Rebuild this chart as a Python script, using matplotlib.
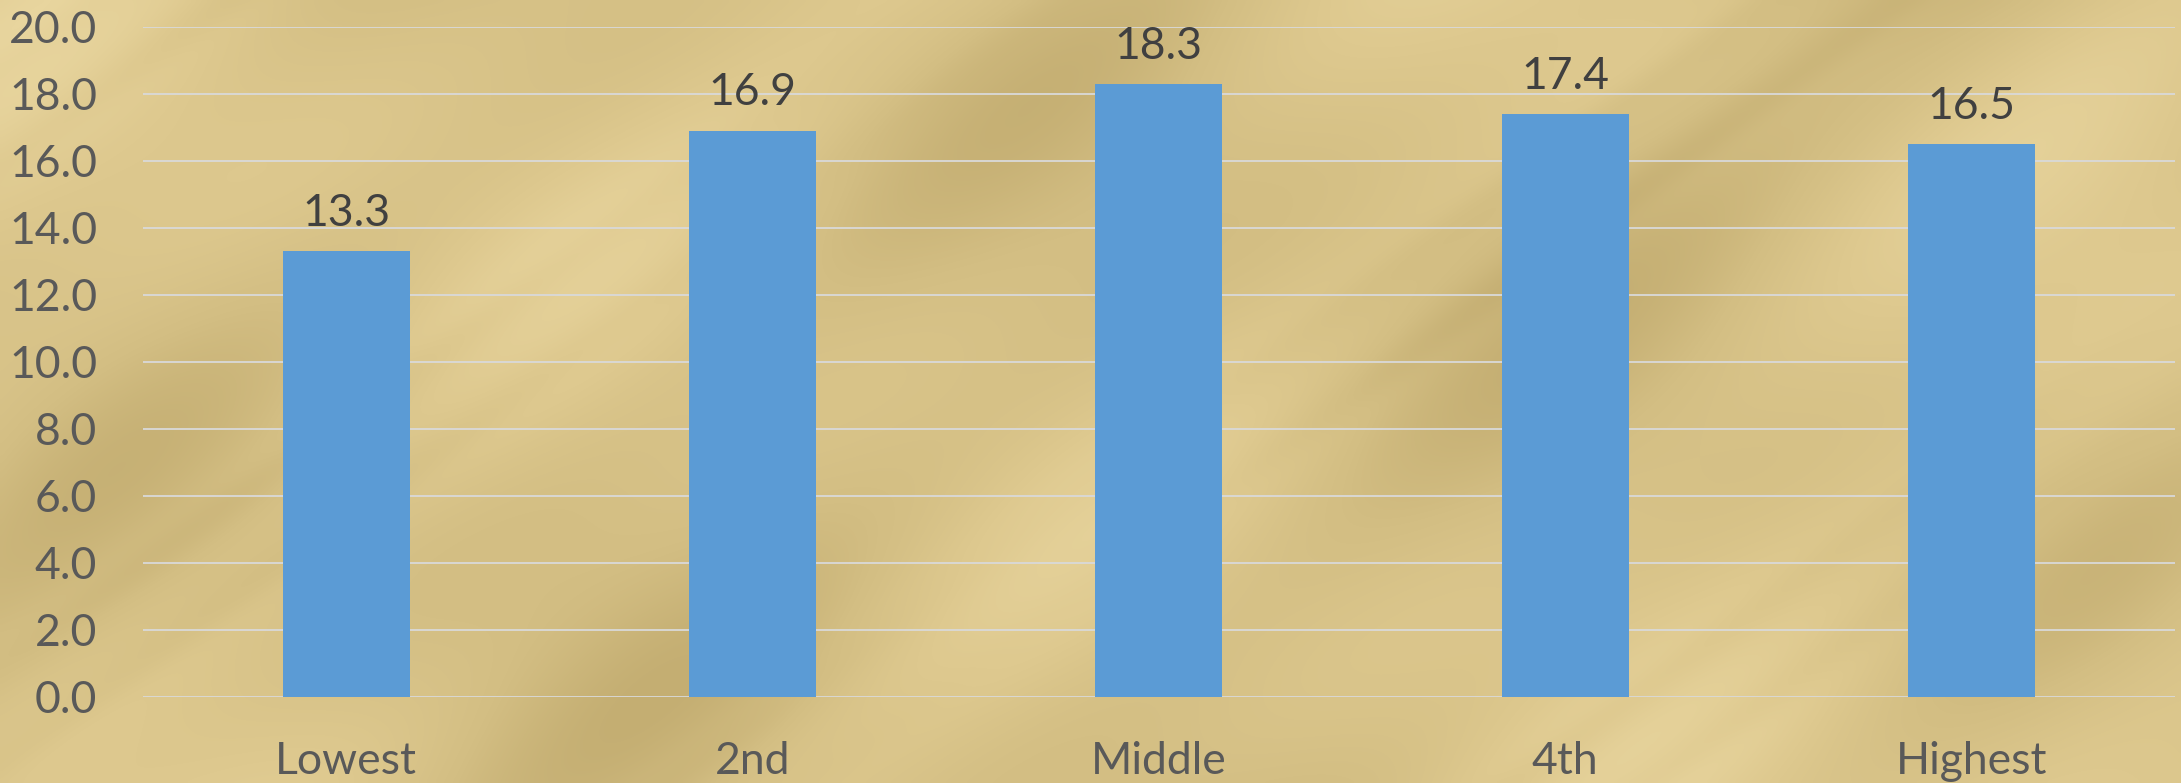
import numpy as np
import matplotlib.pyplot as plt
from matplotlib.colors import LinearSegmentedColormap

# Quintile groups and their values
groups = ['Lowest', '2nd', 'Middle', '4th', 'Highest']
values = [13.3, 16.9, 18.3, 17.4, 16.5]
y_ticks = [0, 2, 4, 6, 8, 10, 12, 14, 16, 18, 20]

W, H = 2181, 783
fig = plt.figure(figsize=(W / 100, H / 100), dpi=100)
fig.patch.set_facecolor('#DCC78E')

# parchment-style backdrop: smooth tan field with soft diagonal streaks
bg = fig.add_axes([0, 0, 1, 1], zorder=-10)
xx, yy = np.meshgrid(np.linspace(0, 1, 600), np.linspace(0, 0.36, 220))
field = (0.35 * np.sin(2 * np.pi * (xx * 3.1 + yy * 2.4) + 0.7)
         + 0.25 * np.sin(2 * np.pi * (xx * 1.3 - yy * 3.0) + 1.9)
         + 0.20 * np.sin(2 * np.pi * (xx * 5.2 + yy * 6.5) + 0.3)
         + 0.15 * np.cos(2 * np.pi * (xx * 0.6 + yy * 1.1)))
streak = np.exp(-((np.sin(2 * np.pi * (xx * 2.6 + yy * 3.6) + 0.4) - 0.9) ** 2) / 0.02)
field = field - 0.35 * streak * (0.6 + 0.4 * np.sin(2 * np.pi * xx * 1.7))
parchment = LinearSegmentedColormap.from_list(
    'parchment', ['#C4AE72', '#D3BE83', '#DEC98F', '#E8D59E'])
bg.imshow(field, cmap=parchment, aspect='auto', extent=[0, 1, 0, 1],
          interpolation='bicubic')
bg.set_axis_off()

ax = fig.add_axes([143 / W, (H - 696.7) / H, 2031.6 / W, 670 / H])
ax.set_facecolor('none')

x = np.arange(len(groups))
bars = ax.bar(x, values, width=0.312, color='#5B9BD5', zorder=3)

for xi, v in zip(x, values):
    ax.text(xi, v + 0.75, f'{v:.1f}', ha='center', va='baseline',
            fontsize=32, color='#404040', family='Lato', zorder=4)

ax.set_xlim(-0.5, len(groups) - 0.5)
ax.set_ylim(0, 20)
ax.set_yticks(y_ticks)
ax.set_yticklabels([f'{t:.1f}' for t in y_ticks])
ax.set_xticks(x)
ax.set_xticklabels(groups)
ax.grid(axis='y', color='#D9D9D9', linewidth=1.3, zorder=1)
ax.tick_params(axis='y', length=0, pad=33, labelsize=32, labelcolor='#595959')
ax.tick_params(axis='x', length=0, pad=32, labelsize=32, labelcolor='#595959')
for lbl in ax.get_xticklabels() + ax.get_yticklabels():
    lbl.set_family('Lato')
for s in ax.spines.values():
    s.set_visible(False)

fig.savefig('out.png', dpi=100)
